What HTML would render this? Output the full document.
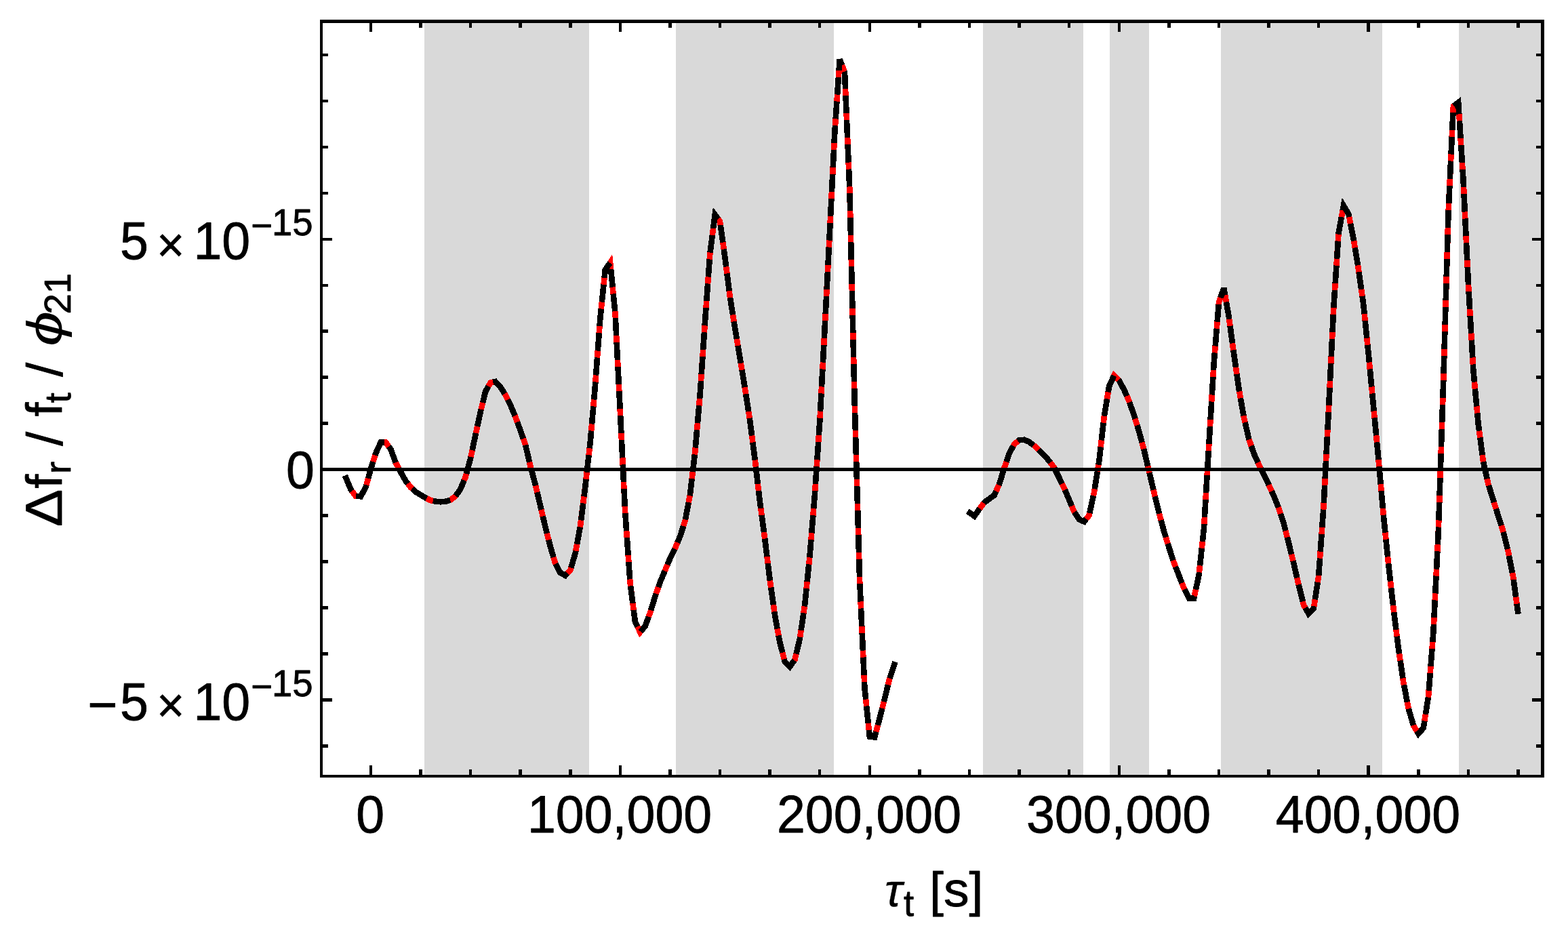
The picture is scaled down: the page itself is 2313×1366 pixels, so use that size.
<!DOCTYPE html>
<html lang="en"><head><meta charset="utf-8"><title>Plot</title>
<style>html,body{margin:0;padding:0;background:#fff;}body{width:2313px;height:1366px;overflow:hidden;}svg{display:block;}text{font-family:"Liberation Sans",sans-serif;fill:#000;}</style></head><body>
<svg width="2313" height="1366" viewBox="0 0 2313 1366">
<rect x="0" y="0" width="2313" height="1366" fill="#fff"/>
<g fill="#d9d9d9" shape-rendering="crispEdges">
<rect x="626" y="29" width="243" height="1118"/>
<rect x="997" y="29" width="233" height="1118"/>
<rect x="1450" y="29" width="148" height="1118"/>
<rect x="1637" y="29" width="58" height="1118"/>
<rect x="1801" y="29" width="238" height="1118"/>
<rect x="2152" y="29" width="124" height="1118"/>
</g>
<polyline points="508.90,701.50 517.46,722.00 524.82,732.00 532.18,732.25 539.54,718.75 546.90,692.00 554.26,668.75 561.62,652.60 568.98,652.60 576.34,662.50 583.70,682.50 591.06,696.25 598.41,709.40 605.77,718.75 613.13,725.60 620.49,730.00 627.85,734.40 635.21,738.10 642.57,739.75 649.93,740.25 657.29,739.75 664.65,737.50 672.01,731.90 679.37,721.25 686.72,703.50 694.08,676.25 701.44,641.50 708.80,607.50 716.16,577.50 723.52,564.50 730.88,563.00 738.24,571.00 745.60,582.50 752.96,597.50 760.32,615.00 767.68,635.00 775.04,656.00 782.39,687.50 789.75,715.00 797.11,746.25 804.47,777.50 811.83,806.25 819.19,831.25 826.55,845.00 833.91,849.00 841.27,841.25 848.63,816.25 855.99,776.25 863.35,717.50 870.70,652.50 878.06,567.50 885.42,469.00 892.78,398.00 900.14,387.40 907.50,462.00 914.86,607.50 922.22,756.00 929.58,860.00 936.94,917.50 944.30,932.50 951.66,923.75 959.02,903.75 966.37,880.00 973.73,858.75 981.09,841.25 988.45,823.75 995.81,808.75 1003.17,791.25 1010.53,768.75 1017.89,730.00 1025.25,667.00 1032.61,582.50 1039.97,475.00 1047.33,374.40 1054.68,316.80 1062.04,326.70 1069.40,379.50 1076.76,437.50 1084.12,483.75 1091.48,527.50 1098.84,572.50 1106.20,620.00 1113.56,677.00 1120.92,740.00 1128.28,795.00 1135.64,855.00 1143.00,907.50 1150.35,947.50 1157.71,976.00 1165.07,983.50 1172.43,973.20 1179.79,942.50 1187.15,892.50 1194.51,820.00 1201.87,730.00 1209.23,622.50 1216.59,485.00 1223.95,342.50 1231.31,196.00 1238.66,87.60 1246.02,106.50 1253.38,280.00 1260.74,595.00 1268.10,855.00 1275.46,1015.00 1282.82,1086.50 1290.18,1087.50 1297.54,1060.00 1304.90,1031.00 1312.26,1001.00 1320.50,976.40" fill="none" stroke="#ff0000" stroke-width="8.6" stroke-linejoin="miter" stroke-miterlimit="3.25" stroke-linecap="butt" shape-rendering="crispEdges"/>
<g fill="none" stroke="#000" stroke-width="8.6" stroke-linejoin="miter" stroke-miterlimit="3.25" stroke-linecap="butt" shape-rendering="crispEdges">
<polyline points="508.90,701.50 517.46,722.00 519.21,724.37"/>
<polyline points="525.35,732.02 532.18,732.25 539.54,718.75 540.46,715.40"/>
<polyline points="543.12,705.76 546.90,692.00 550.34,681.12"/>
<polyline points="553.36,671.58 554.26,668.75 561.62,652.60 566.60,652.60"/>
<polyline points="573.53,658.72 576.34,662.50 583.63,682.32"/>
<polyline points="588.32,691.15 591.06,696.25 598.41,709.40 601.51,713.34"/>
<polyline points="608.05,720.87 613.13,725.60 620.49,730.00 627.85,734.40 629.48,735.22"/>
<polyline points="638.71,738.88 642.57,739.75 649.93,740.25 657.29,739.75 664.22,737.63"/>
<polyline points="672.18,731.65 679.37,721.25 684.65,708.50"/>
<polyline points="687.92,699.07 694.08,676.25 694.57,673.95"/>
<polyline points="696.64,664.16 701.44,641.50 702.02,638.86"/>
<polyline points="704.13,629.08 708.80,607.50 709.70,603.82"/>
<polyline points="712.09,594.11 716.16,577.50 720.48,569.87"/>
<polyline points="727.27,563.74 730.88,563.00 738.24,571.00 744.43,580.68"/>
<polyline points="749.05,589.54 752.96,597.50 759.57,613.23"/>
<polyline points="763.11,622.58 767.68,635.00 771.89,647.04"/>
<polyline points="775.15,656.49 781.05,681.72"/>
<polyline points="783.45,691.43 789.75,715.00 790.10,716.48"/>
<polyline points="792.39,726.21 797.11,746.25 798.45,751.92"/>
<polyline points="800.74,761.66 804.47,777.50 806.85,786.79"/>
<polyline points="809.33,796.48 811.83,806.25 816.52,822.17"/>
<polyline points="819.44,831.73 826.55,845.00 833.91,849.00 837.03,845.72"/>
<polyline points="842.35,837.57 848.63,816.25 849.29,812.66"/>
<polyline points="851.10,802.83 855.78,777.38"/>
<polyline points="857.09,767.47 860.23,742.41"/>
<polyline points="861.47,732.49 863.35,717.50 864.56,706.80"/>
<polyline points="865.68,696.87 868.59,671.18"/>
<polyline points="869.71,661.24 870.70,652.50 872.18,635.49"/>
<polyline points="873.04,625.53 875.30,599.47"/>
<polyline points="876.16,589.51 878.06,567.50 878.36,563.48"/>
<polyline points="879.11,553.50 881.05,527.50"/>
<polyline points="881.80,517.53 883.76,491.23"/>
<polyline points="884.51,481.26 885.42,469.00 886.82,455.49"/>
<polyline points="887.85,445.55 890.52,419.81"/>
<polyline points="891.55,409.87 892.78,398.00 899.86,387.81"/>
<polyline points="901.07,396.85 903.70,423.50"/>
<polyline points="904.68,433.45 907.22,459.20"/>
<polyline points="907.86,469.17 909.17,495.01"/>
<polyline points="909.68,505.00 910.98,530.86"/>
<polyline points="911.49,540.85 912.82,567.09"/>
<polyline points="913.32,577.08 914.65,603.34"/>
<polyline points="915.15,613.33 916.43,639.17"/>
<polyline points="916.92,649.16 918.23,675.42"/>
<polyline points="918.72,685.41 920.00,711.24"/>
<polyline points="920.50,721.23 921.78,747.07"/>
<polyline points="922.29,757.06 924.15,783.30"/>
<polyline points="924.86,793.27 926.68,819.08"/>
<polyline points="927.39,829.05 929.18,854.39"/>
<polyline points="930.13,864.34 933.42,890.00"/>
<polyline points="934.69,899.92 936.94,917.50 940.31,924.38"/>
<polyline points="944.91,931.77 951.66,923.75 956.80,909.76"/>
<polyline points="960.08,900.31 966.37,880.00 967.86,875.71"/>
<polyline points="971.13,866.26 973.73,858.75 980.68,842.23"/>
<polyline points="984.56,833.01 988.45,823.75 995.42,809.55"/>
<polyline points="999.34,800.35 1003.17,791.25 1008.14,776.05"/>
<polyline points="1010.96,766.47 1015.78,741.10"/>
<polyline points="1017.65,731.27 1017.89,730.00 1020.68,706.13"/>
<polyline points="1021.84,696.20 1024.84,670.50"/>
<polyline points="1025.81,660.55 1028.10,634.24"/>
<polyline points="1028.97,624.28 1031.23,598.26"/>
<polyline points="1032.10,588.29 1032.61,582.50 1034.01,562.03"/>
<polyline points="1034.69,552.05 1036.48,525.93"/>
<polyline points="1037.16,515.95 1038.92,490.30"/>
<polyline points="1039.60,480.33 1039.97,475.00 1041.49,454.21"/>
<polyline points="1042.22,444.24 1044.10,418.44"/>
<polyline points="1044.83,408.46 1046.73,382.51"/>
<polyline points="1047.56,372.55 1050.84,346.89"/>
<polyline points="1052.11,336.97 1054.68,316.80 1059.29,323.00"/>
<polyline points="1062.79,332.04 1066.36,357.66"/>
<polyline points="1067.74,367.56 1069.40,379.50 1071.18,393.50"/>
<polyline points="1072.44,403.42 1075.71,429.17"/>
<polyline points="1077.02,439.09 1081.03,464.32"/>
<polyline points="1082.60,474.20 1084.12,483.75 1086.86,500.04"/>
<polyline points="1088.52,509.90 1091.48,527.50 1092.84,535.81"/>
<polyline points="1094.45,545.68 1098.65,571.32"/>
<polyline points="1100.19,581.20 1104.19,607.04"/>
<polyline points="1105.72,616.93 1106.20,620.00 1109.12,642.62"/>
<polyline points="1110.40,652.53 1113.56,677.00 1113.75,678.66"/>
<polyline points="1114.91,688.59 1117.87,713.87"/>
<polyline points="1119.03,723.80 1120.92,740.00 1122.25,749.99"/>
<polyline points="1123.58,759.90 1126.95,785.07"/>
<polyline points="1128.27,794.98 1128.28,795.00 1131.48,821.13"/>
<polyline points="1132.70,831.06 1135.64,855.00 1135.87,856.66"/>
<polyline points="1137.26,866.56 1140.85,892.23"/>
<polyline points="1142.24,902.14 1143.00,907.50 1146.69,927.57"/>
<polyline points="1148.50,937.40 1150.35,947.50 1154.25,962.61"/>
<polyline points="1156.76,972.29 1157.71,976.00 1165.07,983.50 1171.78,974.12"/>
<polyline points="1174.50,964.57 1179.79,942.50 1180.19,939.81"/>
<polyline points="1181.64,929.92 1185.41,904.32"/>
<polyline points="1186.87,894.43 1187.15,892.50 1189.62,868.16"/>
<polyline points="1190.63,858.21 1193.25,832.38"/>
<polyline points="1194.26,822.43 1194.51,820.00 1196.45,796.22"/>
<polyline points="1197.27,786.26 1199.39,760.28"/>
<polyline points="1200.21,750.32 1201.87,730.00 1202.26,724.21"/>
<polyline points="1202.95,714.24 1204.73,688.28"/>
<polyline points="1205.41,678.30 1207.20,652.18"/>
<polyline points="1207.88,642.20 1209.23,622.50 1209.54,616.62"/>
<polyline points="1210.08,606.64 1211.48,580.42"/>
<polyline points="1212.01,570.43 1213.40,544.55"/>
<polyline points="1213.93,534.57 1215.32,508.73"/>
<polyline points="1215.85,498.75 1216.59,485.00 1217.21,472.91"/>
<polyline points="1217.73,462.93 1219.06,437.09"/>
<polyline points="1219.58,427.11 1220.93,400.85"/>
<polyline points="1221.45,390.86 1222.81,364.56"/>
<polyline points="1223.32,354.57 1223.95,342.50 1224.64,328.74"/>
<polyline points="1225.14,318.75 1226.44,292.91"/>
<polyline points="1226.94,282.93 1228.24,257.08"/>
<polyline points="1228.74,247.10 1230.06,220.84"/>
<polyline points="1230.56,210.85 1231.31,196.00 1232.03,185.33"/>
<polyline points="1232.71,175.35 1234.46,149.54"/>
<polyline points="1235.14,139.56 1236.89,113.75"/>
<polyline points="1237.57,103.78 1238.66,87.60 1242.00,96.17"/>
<polyline points="1245.63,105.49 1246.02,106.50 1247.07,131.26"/>
<polyline points="1247.50,141.25 1248.59,167.10"/>
<polyline points="1249.02,177.09 1250.13,203.31"/>
<polyline points="1250.55,213.30 1251.67,239.56"/>
<polyline points="1252.09,249.55 1253.19,275.41"/>
<polyline points="1253.51,285.41 1254.12,311.41"/>
<polyline points="1254.35,321.41 1254.95,347.11"/>
<polyline points="1255.18,357.11 1255.79,383.13"/>
<polyline points="1256.03,393.13 1256.63,419.14"/>
<polyline points="1256.87,429.14 1257.47,455.00"/>
<polyline points="1257.71,465.00 1258.32,491.25"/>
<polyline points="1258.55,501.24 1259.16,527.11"/>
<polyline points="1259.39,537.10 1260.00,563.28"/>
<polyline points="1260.23,573.28 1260.74,595.00 1260.86,599.22"/>
<polyline points="1261.14,609.22 1261.89,635.39"/>
<polyline points="1262.17,645.38 1262.90,671.24"/>
<polyline points="1263.18,681.24 1263.92,707.18"/>
<polyline points="1264.20,717.18 1264.93,743.12"/>
<polyline points="1265.22,753.12 1265.95,779.06"/>
<polyline points="1266.24,789.06 1266.97,815.00"/>
<polyline points="1267.25,824.99 1268.00,851.25"/>
<polyline points="1268.39,861.24 1269.60,887.49"/>
<polyline points="1270.06,897.48 1271.26,923.73"/>
<polyline points="1271.72,933.72 1272.91,959.61"/>
<polyline points="1273.37,969.60 1274.58,995.81"/>
<polyline points="1275.04,1005.80 1275.46,1015.00 1277.17,1031.57"/>
<polyline points="1278.19,1041.52 1280.80,1066.89"/>
<polyline points="1281.83,1076.84 1282.82,1086.50 1290.18,1087.50 1292.35,1079.37"/>
<polyline points="1294.94,1069.71 1297.54,1060.00 1301.38,1044.87"/>
<polyline points="1303.84,1035.18 1304.90,1031.00 1309.98,1010.26"/>
<polyline points="1312.40,1000.56 1320.50,976.40"/>
</g>
<polyline points="1427.00,754.30 1437.36,761.25 1444.72,751.00 1452.08,741.20 1459.44,735.70 1466.80,730.50 1474.16,713.75 1481.52,690.00 1488.88,668.75 1496.24,655.00 1503.60,649.25 1510.96,648.75 1518.31,652.00 1525.67,657.50 1533.03,664.50 1540.39,671.75 1547.75,680.00 1555.11,690.00 1562.47,705.00 1569.83,720.00 1577.19,737.50 1584.55,755.00 1591.91,766.25 1599.27,769.50 1606.62,760.00 1613.98,726.25 1621.34,680.00 1628.70,615.00 1636.06,570.00 1643.42,553.75 1650.78,561.25 1658.14,575.00 1665.50,591.50 1672.86,612.50 1680.22,636.50 1687.58,664.00 1694.94,695.00 1702.29,726.25 1709.65,756.25 1717.01,783.75 1724.37,807.50 1731.73,830.00 1739.09,849.00 1746.45,867.50 1753.81,882.30 1761.17,882.30 1768.53,848.50 1775.89,780.00 1783.25,657.50 1790.60,536.50 1797.96,446.30 1805.32,425.00 1812.68,467.00 1820.04,521.50 1827.40,573.00 1834.76,615.00 1842.12,647.00 1849.48,668.75 1856.84,685.00 1864.20,700.00 1871.56,715.00 1878.92,731.25 1886.27,749.50 1893.63,772.00 1900.99,801.00 1908.35,831.00 1915.71,863.00 1923.07,892.50 1930.43,905.30 1937.79,897.60 1945.15,850.00 1952.51,747.00 1959.87,606.00 1967.23,455.00 1974.58,343.90 1981.94,303.40 1989.30,315.50 1996.66,352.50 2004.02,397.50 2011.38,450.00 2018.74,522.50 2026.10,600.00 2033.46,677.50 2040.82,760.00 2048.18,832.50 2055.54,897.50 2062.90,956.25 2070.25,1006.25 2077.61,1045.00 2084.97,1070.00 2092.33,1082.30 2099.69,1074.00 2107.05,1027.50 2114.41,932.50 2121.77,785.00 2129.13,565.00 2136.49,315.00 2143.85,156.90 2151.21,151.20 2158.56,266.00 2165.92,418.00 2173.28,545.00 2180.64,625.00 2188.00,681.00 2195.36,714.00 2202.72,737.50 2210.08,761.00 2217.44,784.00 2224.80,813.75 2232.16,851.25 2239.52,905.90" fill="none" stroke="#ff0000" stroke-width="8.6" stroke-linejoin="miter" stroke-miterlimit="3.25" stroke-linecap="butt" shape-rendering="crispEdges"/>
<g fill="none" stroke="#000" stroke-width="8.6" stroke-linejoin="miter" stroke-miterlimit="3.25" stroke-linecap="butt" shape-rendering="crispEdges">
<polyline points="1427.18,754.42 1437.36,761.25 1444.72,751.00 1445.32,750.21"/>
<polyline points="1451.32,742.21 1452.08,741.20 1459.44,735.70 1466.80,730.50 1469.35,724.70"/>
<polyline points="1473.37,715.54 1474.16,713.75 1481.26,690.85"/>
<polyline points="1484.50,681.39 1488.88,668.75 1494.77,657.73"/>
<polyline points="1501.67,650.75 1503.60,649.25 1510.96,648.75 1518.31,652.00 1524.62,656.71"/>
<polyline points="1531.97,663.49 1533.03,664.50 1540.39,671.75 1547.75,680.00 1549.42,682.26"/>
<polyline points="1555.28,690.35 1562.47,705.00 1566.64,713.49"/>
<polyline points="1570.90,722.54 1577.19,737.50 1580.92,746.38"/>
<polyline points="1584.90,755.55 1591.91,766.25 1599.27,769.50 1602.41,765.44"/>
<polyline points="1607.29,756.96 1612.91,731.18"/>
<polyline points="1614.76,721.36 1618.87,695.56"/>
<polyline points="1620.44,685.69 1621.34,680.00 1623.68,659.39"/>
<polyline points="1624.80,649.46 1627.71,623.75"/>
<polyline points="1628.90,613.82 1633.06,588.34"/>
<polyline points="1634.68,578.48 1636.06,570.00 1643.21,554.21"/>
<polyline points="1650.07,560.53 1650.78,561.25 1658.14,575.00 1662.21,584.14"/>
<polyline points="1666.14,593.33 1672.86,612.50 1674.49,617.81"/>
<polyline points="1677.42,627.37 1680.22,636.50 1684.54,652.65"/>
<polyline points="1687.12,662.31 1687.58,664.00 1693.20,687.67"/>
<polyline points="1695.50,697.40 1701.44,722.61"/>
<polyline points="1703.79,732.33 1709.65,756.25 1710.03,757.65"/>
<polyline points="1712.61,767.31 1717.01,783.75 1719.71,792.45"/>
<polyline points="1722.67,802.00 1724.37,807.50 1730.63,826.62"/>
<polyline points="1734.06,836.01 1739.09,849.00 1743.50,860.09"/>
<polyline points="1747.35,869.32 1753.81,882.30 1761.17,882.30 1761.80,879.42"/>
<polyline points="1763.92,869.64 1768.53,848.50 1768.98,844.29"/>
<polyline points="1770.05,834.35 1772.80,808.70"/>
<polyline points="1773.87,798.76 1775.89,780.00 1776.31,773.01"/>
<polyline points="1776.91,763.03 1778.46,737.21"/>
<polyline points="1779.06,727.22 1780.64,700.87"/>
<polyline points="1781.24,690.89 1782.80,664.98"/>
<polyline points="1783.40,655.00 1784.99,628.76"/>
<polyline points="1785.60,618.78 1787.20,592.49"/>
<polyline points="1787.81,582.51 1789.41,556.22"/>
<polyline points="1790.01,546.24 1790.60,536.50 1791.91,520.44"/>
<polyline points="1792.73,510.48 1794.83,484.69"/>
<polyline points="1795.64,474.72 1797.75,448.94"/>
<polyline points="1800.36,439.35 1805.32,425.00 1807.17,435.52"/>
<polyline points="1808.89,445.37 1812.68,467.00 1813.21,470.88"/>
<polyline points="1814.54,480.79 1818.01,506.43"/>
<polyline points="1819.34,516.34 1820.04,521.50 1822.96,541.95"/>
<polyline points="1824.38,551.85 1827.40,573.00 1828.19,577.52"/>
<polyline points="1829.92,587.37 1834.47,613.33"/>
<polyline points="1836.62,623.10 1842.12,647.00 1842.55,648.27"/>
<polyline points="1845.76,657.75 1849.48,668.75 1855.59,682.25"/>
<polyline points="1859.91,691.27 1864.20,700.00 1871.56,715.00 1871.73,715.39"/>
<polyline points="1875.86,724.50 1878.92,731.25 1885.83,748.40"/>
<polyline points="1889.01,757.88 1893.63,772.00 1896.38,782.84"/>
<polyline points="1898.84,792.53 1900.99,801.00 1905.08,817.65"/>
<polyline points="1907.46,827.36 1908.35,831.00 1913.31,852.55"/>
<polyline points="1915.55,862.30 1915.71,863.00 1921.80,887.40"/>
<polyline points="1925.44,896.61 1930.43,905.30 1937.79,897.60 1938.31,894.25"/>
<polyline points="1939.83,884.37 1943.77,858.94"/>
<polyline points="1945.22,849.05 1947.04,823.58"/>
<polyline points="1947.75,813.61 1949.59,787.80"/>
<polyline points="1950.30,777.83 1952.17,751.69"/>
<polyline points="1952.78,741.71 1954.13,715.87"/>
<polyline points="1954.65,705.89 1956.00,679.99"/>
<polyline points="1956.53,670.01 1957.88,644.14"/>
<polyline points="1958.40,634.16 1959.77,607.92"/>
<polyline points="1960.26,597.93 1961.54,571.67"/>
<polyline points="1962.03,561.68 1963.29,535.71"/>
<polyline points="1963.78,525.72 1965.04,499.74"/>
<polyline points="1965.53,489.76 1966.80,463.78"/>
<polyline points="1967.31,453.79 1969.02,427.85"/>
<polyline points="1969.69,417.87 1971.42,391.69"/>
<polyline points="1972.08,381.71 1973.81,355.59"/>
<polyline points="1974.47,345.61 1974.58,343.90 1978.90,320.14"/>
<polyline points="1980.69,310.30 1981.94,303.40 1989.30,315.50 1990.22,320.11"/>
<polyline points="1992.17,329.91 1996.66,352.50 1997.15,355.46"/>
<polyline points="1998.76,365.33 2003.01,391.30"/>
<polyline points="2004.54,401.19 2008.15,426.95"/>
<polyline points="2009.54,436.86 2011.38,450.00 2012.71,463.11"/>
<polyline points="2013.72,473.05 2016.33,498.79"/>
<polyline points="2017.34,508.74 2018.74,522.50 2019.88,534.49"/>
<polyline points="2020.82,544.44 2023.30,570.55"/>
<polyline points="2024.25,580.50 2026.10,600.00 2026.71,606.40"/>
<polyline points="2027.65,616.36 2030.12,642.32"/>
<polyline points="2031.06,652.27 2033.46,677.50 2033.52,678.25"/>
<polyline points="2034.41,688.21 2036.74,714.26"/>
<polyline points="2037.63,724.22 2039.92,749.99"/>
<polyline points="2040.81,759.95 2040.82,760.00 2043.42,785.69"/>
<polyline points="2044.43,795.63 2047.05,821.37"/>
<polyline points="2048.06,831.32 2048.18,832.50 2051.01,857.50"/>
<polyline points="2052.13,867.43 2055.04,893.14"/>
<polyline points="2056.23,903.07 2059.45,928.78"/>
<polyline points="2060.70,938.70 2062.90,956.25 2064.12,964.56"/>
<polyline points="2065.57,974.45 2069.39,1000.41"/>
<polyline points="2071.02,1010.27 2075.85,1035.69"/>
<polyline points="2077.76,1045.50 2084.96,1069.96"/>
<polyline points="2090.09,1078.55 2092.33,1082.30 2099.69,1074.00 2101.33,1063.64"/>
<polyline points="2102.89,1053.77 2106.86,1028.71"/>
<polyline points="2107.73,1018.75 2109.73,992.96"/>
<polyline points="2110.50,982.99 2112.51,957.04"/>
<polyline points="2113.28,947.07 2114.41,932.50 2114.97,921.25"/>
<polyline points="2115.47,911.27 2116.76,885.43"/>
<polyline points="2117.26,875.44 2118.55,849.57"/>
<polyline points="2119.05,839.59 2120.35,813.36"/>
<polyline points="2120.85,803.37 2121.77,785.00 2122.02,777.50"/>
<polyline points="2122.35,767.51 2123.23,741.26"/>
<polyline points="2123.57,731.27 2124.44,705.00"/>
<polyline points="2124.78,695.01 2125.64,669.15"/>
<polyline points="2125.98,659.16 2126.85,632.95"/>
<polyline points="2127.19,622.96 2128.06,597.05"/>
<polyline points="2128.39,587.06 2129.13,565.00 2129.25,560.87"/>
<polyline points="2129.54,550.87 2130.31,525.01"/>
<polyline points="2130.60,515.02 2131.36,489.16"/>
<polyline points="2131.65,479.16 2132.42,453.30"/>
<polyline points="2132.71,443.31 2133.46,417.96"/>
<polyline points="2133.75,407.96 2134.51,382.10"/>
<polyline points="2134.81,372.11 2135.57,346.25"/>
<polyline points="2135.86,336.25 2136.49,315.00 2136.72,309.99"/>
<polyline points="2137.19,300.00 2138.41,273.76"/>
<polyline points="2138.87,263.77 2140.09,237.51"/>
<polyline points="2140.56,227.52 2141.76,201.68"/>
<polyline points="2142.23,191.69 2143.43,165.85"/>
<polyline points="2144.67,156.26 2151.21,151.20 2152.31,168.40"/>
<polyline points="2152.95,178.38 2154.60,204.20"/>
<polyline points="2155.24,214.18 2156.90,240.00"/>
<polyline points="2157.54,249.98 2158.56,266.00 2159.06,276.25"/>
<polyline points="2159.54,286.24 2160.82,312.52"/>
<polyline points="2161.30,322.50 2162.55,348.35"/>
<polyline points="2163.04,358.34 2164.29,384.18"/>
<polyline points="2164.77,394.17 2165.92,418.00 2166.04,420.00"/>
<polyline points="2166.62,429.99 2168.12,455.81"/>
<polyline points="2168.69,465.80 2170.19,491.62"/>
<polyline points="2170.77,501.61 2172.27,527.50"/>
<polyline points="2172.85,537.49 2173.28,545.00 2175.00,563.63"/>
<polyline points="2175.91,573.59 2178.29,599.45"/>
<polyline points="2179.21,609.41 2180.64,625.00 2182.03,635.59"/>
<polyline points="2183.34,645.50 2186.71,671.21"/>
<polyline points="2188.03,681.12 2193.67,706.41"/>
<polyline points="2196.02,716.12 2202.72,737.50 2203.84,741.06"/>
<polyline points="2206.82,750.60 2210.08,761.00 2214.65,775.30"/>
<polyline points="2217.65,784.84 2223.90,810.12"/>
<polyline points="2226.00,819.90 2230.97,845.20"/>
<polyline points="2232.67,855.05 2236.13,880.77"/>
<polyline points="2237.47,890.68 2239.52,905.90"/>
</g>
<g fill="#000" shape-rendering="crispEdges">
<rect x="472" y="690" width="1806" height="5"/>
<rect x="472" y="29" width="4" height="1118"/>
<rect x="2273" y="29" width="5" height="1118"/>
<rect x="472" y="29" width="1806" height="5"/>
<rect x="472" y="1143" width="1806" height="4"/>
<rect x="545" y="34" width="4" height="13"/>
<rect x="545" y="1129" width="4" height="14"/>
<rect x="618" y="34" width="5" height="7"/>
<rect x="618" y="1135" width="5" height="8"/>
<rect x="692" y="34" width="4" height="7"/>
<rect x="692" y="1135" width="4" height="8"/>
<rect x="765" y="34" width="5" height="7"/>
<rect x="765" y="1135" width="5" height="8"/>
<rect x="839" y="34" width="5" height="7"/>
<rect x="839" y="1135" width="5" height="8"/>
<rect x="913" y="34" width="4" height="13"/>
<rect x="913" y="1129" width="4" height="14"/>
<rect x="986" y="34" width="5" height="7"/>
<rect x="986" y="1135" width="5" height="8"/>
<rect x="1060" y="34" width="4" height="7"/>
<rect x="1060" y="1135" width="4" height="8"/>
<rect x="1133" y="34" width="5" height="7"/>
<rect x="1133" y="1135" width="5" height="8"/>
<rect x="1207" y="34" width="4" height="7"/>
<rect x="1207" y="1135" width="4" height="8"/>
<rect x="1281" y="34" width="4" height="13"/>
<rect x="1281" y="1129" width="4" height="14"/>
<rect x="1354" y="34" width="5" height="7"/>
<rect x="1354" y="1135" width="5" height="8"/>
<rect x="1428" y="34" width="4" height="7"/>
<rect x="1428" y="1135" width="4" height="8"/>
<rect x="1501" y="34" width="5" height="7"/>
<rect x="1501" y="1135" width="5" height="8"/>
<rect x="1575" y="34" width="4" height="7"/>
<rect x="1575" y="1135" width="4" height="8"/>
<rect x="1649" y="34" width="4" height="13"/>
<rect x="1649" y="1129" width="4" height="14"/>
<rect x="1722" y="34" width="5" height="7"/>
<rect x="1722" y="1135" width="5" height="8"/>
<rect x="1796" y="34" width="4" height="7"/>
<rect x="1796" y="1135" width="4" height="8"/>
<rect x="1869" y="34" width="5" height="7"/>
<rect x="1869" y="1135" width="5" height="8"/>
<rect x="1943" y="34" width="4" height="7"/>
<rect x="1943" y="1135" width="4" height="8"/>
<rect x="2016" y="34" width="5" height="13"/>
<rect x="2016" y="1129" width="5" height="14"/>
<rect x="2090" y="34" width="5" height="7"/>
<rect x="2090" y="1135" width="5" height="8"/>
<rect x="2164" y="34" width="4" height="7"/>
<rect x="2164" y="1135" width="4" height="8"/>
<rect x="2237" y="34" width="5" height="7"/>
<rect x="2237" y="1135" width="5" height="8"/>
<rect x="476" y="1098" width="8" height="5"/>
<rect x="2266" y="1098" width="7" height="5"/>
<rect x="476" y="1030" width="14" height="5"/>
<rect x="2260" y="1030" width="13" height="5"/>
<rect x="476" y="962" width="8" height="5"/>
<rect x="2266" y="962" width="7" height="5"/>
<rect x="476" y="894" width="8" height="5"/>
<rect x="2266" y="894" width="7" height="5"/>
<rect x="476" y="826" width="8" height="5"/>
<rect x="2266" y="826" width="7" height="5"/>
<rect x="476" y="758" width="8" height="5"/>
<rect x="2266" y="758" width="7" height="5"/>
<rect x="476" y="622" width="8" height="5"/>
<rect x="2266" y="622" width="7" height="5"/>
<rect x="476" y="554" width="8" height="5"/>
<rect x="2266" y="554" width="7" height="5"/>
<rect x="476" y="486" width="8" height="5"/>
<rect x="2266" y="486" width="7" height="5"/>
<rect x="476" y="419" width="8" height="4"/>
<rect x="2266" y="419" width="7" height="4"/>
<rect x="476" y="351" width="14" height="4"/>
<rect x="2260" y="351" width="13" height="4"/>
<rect x="476" y="283" width="8" height="4"/>
<rect x="2266" y="283" width="7" height="4"/>
<rect x="476" y="215" width="8" height="4"/>
<rect x="2266" y="215" width="7" height="4"/>
<rect x="476" y="147" width="8" height="4"/>
<rect x="2266" y="147" width="7" height="4"/>
<rect x="476" y="79" width="8" height="4"/>
<rect x="2266" y="79" width="7" height="4"/>
</g>
<text transform="translate(546.10,1227.75) scale(1.0,1.03)" font-size="75.3" text-anchor="middle" stroke="#000" stroke-width="0.8" stroke-linejoin="round">0</text>
<text transform="translate(914.06,1227.75) scale(1.0,1.03)" font-size="75.3" text-anchor="middle" stroke="#000" stroke-width="0.8" stroke-linejoin="round">100,000</text>
<text transform="translate(1282.02,1227.75) scale(1.0,1.03)" font-size="75.3" text-anchor="middle" stroke="#000" stroke-width="0.8" stroke-linejoin="round">200,000</text>
<text transform="translate(1649.98,1227.75) scale(1.0,1.03)" font-size="75.3" text-anchor="middle" stroke="#000" stroke-width="0.8" stroke-linejoin="round">300,000</text>
<text transform="translate(2017.94,1227.75) scale(1.0,1.03)" font-size="75.3" text-anchor="middle" stroke="#000" stroke-width="0.8" stroke-linejoin="round">400,000</text>
<text transform="translate(176.99,382.00) scale(1.0,1.03)" font-size="75.3" text-anchor="start" stroke="#000" stroke-width="0.8" stroke-linejoin="round">5</text>
<text transform="translate(231.17,385.60) scale(1.0,1.03)" font-size="70.029" text-anchor="start" stroke="#000" stroke-width="0.8" stroke-linejoin="round">×</text>
<text transform="translate(285.50,382.00) scale(1.0,1.03)" font-size="75.3" text-anchor="start" stroke="#000" stroke-width="0.8" stroke-linejoin="round">10</text>
<text transform="translate(370.33,352.00) scale(1.0,1.03)" font-size="54.5" text-anchor="start" stroke="#000" stroke-width="0.8" stroke-linejoin="round">−</text>
<text transform="translate(401.00,347.00) scale(1.0,1.03)" font-size="54.5" text-anchor="start" stroke="#000" stroke-width="0.8" stroke-linejoin="round">15</text>
<text transform="translate(421.90,720.00) scale(1.0,1.03)" font-size="75.3" text-anchor="start" stroke="#000" stroke-width="0.8" stroke-linejoin="round">0</text>
<text transform="translate(129.31,1066.20) scale(1.0,1.03)" font-size="75.3" text-anchor="start" stroke="#000" stroke-width="0.8" stroke-linejoin="round">−</text>
<text transform="translate(176.99,1061.50) scale(1.0,1.03)" font-size="75.3" text-anchor="start" stroke="#000" stroke-width="0.8" stroke-linejoin="round">5</text>
<text transform="translate(231.17,1065.10) scale(1.0,1.03)" font-size="70.029" text-anchor="start" stroke="#000" stroke-width="0.8" stroke-linejoin="round">×</text>
<text transform="translate(285.50,1061.50) scale(1.0,1.03)" font-size="75.3" text-anchor="start" stroke="#000" stroke-width="0.8" stroke-linejoin="round">10</text>
<text transform="translate(370.33,1031.50) scale(1.0,1.03)" font-size="54.5" text-anchor="start" stroke="#000" stroke-width="0.8" stroke-linejoin="round">−</text>
<text transform="translate(401.00,1026.50) scale(1.0,1.03)" font-size="54.5" text-anchor="start" stroke="#000" stroke-width="0.8" stroke-linejoin="round">15</text>
<text transform="translate(1304.94,1337.00) scale(1.0,1.0)" font-size="69.276" text-anchor="start" font-style="italic" stroke="#000" stroke-width="0.3" stroke-linejoin="round">τ</text>
<text transform="translate(1333.00,1350.50) scale(1.0,1.0)" font-size="54.5" text-anchor="start" stroke="#000" stroke-width="0.8" stroke-linejoin="round">t</text>
<text transform="translate(1371.00,1337.00) scale(1.0,0.96)" font-size="75.3" text-anchor="start" stroke="#000" stroke-width="0.8" stroke-linejoin="round">[s]</text>
<text transform="translate(91.00,777.00) rotate(-90) scale(1.1,1.01)" font-size="75.3" text-anchor="start" stroke="#000" stroke-width="0.8" stroke-linejoin="round">Δ</text>
<text transform="translate(91.00,720.80) rotate(-90) scale(1.0,0.99)" font-size="75.3" text-anchor="start" stroke="#000" stroke-width="0.8" stroke-linejoin="round">f</text>
<text transform="translate(104.00,699.10) rotate(-90) scale(1.0,1.0)" font-size="54.5" text-anchor="start" stroke="#000" stroke-width="0.8" stroke-linejoin="round">r</text>
<text transform="translate(91.90,657.70) rotate(-90) scale(1.0,0.99)" font-size="75.3" text-anchor="start" stroke="#000" stroke-width="0.8" stroke-linejoin="round">/</text>
<text transform="translate(91.00,614.40) rotate(-90) scale(1.0,0.99)" font-size="75.3" text-anchor="start" stroke="#000" stroke-width="0.8" stroke-linejoin="round">f</text>
<text transform="translate(103.50,594.52) rotate(-90) scale(1.0,1.0)" font-size="54.5" text-anchor="start" stroke="#000" stroke-width="0.8" stroke-linejoin="round">t</text>
<text transform="translate(91.90,555.70) rotate(-90) scale(1.0,0.99)" font-size="75.3" text-anchor="start" stroke="#000" stroke-width="0.8" stroke-linejoin="round">/</text>
<text transform="translate(91.00,510.90) rotate(-90) scale(1.25,0.96)" font-size="75.3" text-anchor="start" font-style="italic" stroke="#000" stroke-width="0" stroke-linejoin="round">ϕ</text>
<text transform="translate(104.00,463.53) rotate(-90) scale(1.0,1.03)" font-size="54.5" text-anchor="start" stroke="#000" stroke-width="0.8" stroke-linejoin="round">21</text>
</svg></body></html>
